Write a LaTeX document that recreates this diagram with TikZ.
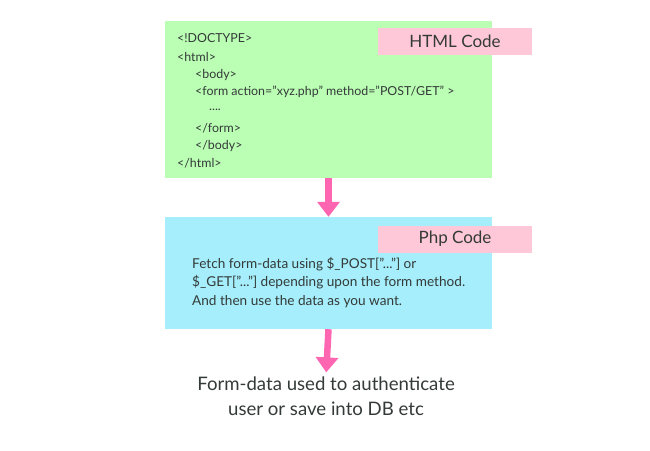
\documentclass[tikz,border=0pt]{standalone}
\usepackage{fontspec}
\setmainfont{Lato}
\usetikzlibrary{arrows.meta}

\definecolor{htmlgreen}{HTML}{BBFFB4}
\definecolor{phpblue}{HTML}{A6EEFB}
\definecolor{tagpink}{HTML}{FFC8D8}
\definecolor{flowpink}{HTML}{FF66B2}
\definecolor{inkgray}{HTML}{333A38}

\tikzset{
    codebox/.style={draw=none, minimum width=327pt, inner sep=0pt},
    tagbox/.style={fill=tagpink, minimum width=154pt, minimum height=27pt, inner sep=0pt, font=\fontsize{17}{20}\selectfont, text=inkgray},
    codeline/.style={anchor=west, inner sep=0pt, font=\fontsize{12.4}{14}\selectfont, text=inkgray},
    flow/.style={line width=6.5pt, flowpink, -{Triangle[length=15pt,width=22pt]}},
}

\begin{document}
\begin{tikzpicture}[x=1pt,y=-1pt,text centered]
    \useasboundingbox (0,0) rectangle (650,450);

    % html part
    \node [codebox, fill=htmlgreen, minimum height=157pt] (html) at (328.5,99.5) {};
    \node [tagbox] (htmltag) at (455,41.5) {HTML Code};

    \node [codeline] (l1) at (177,38) {<!DOCTYPE>};
    \node [codeline] (l2) at (177,57) {<html>};
    \node [codeline] (l3) at (195,75) {<body>};
    \node [codeline] (l4) at (195,92) {<form action="xyz.php" method="POST/GET" >};
    \node [codeline] (l5) at (209,110) {....};
    \node [codeline] (l6) at (195,128) {</form>};
    \node [codeline] (l7) at (195,146) {</body>};
    \node [codeline] (l8) at (177,163) {</html>};

    % php part
    \node [codebox, fill=phpblue, minimum height=112pt] (php) at (328.5,273) {};
    \node [tagbox] (phptag) at (455,239) {Php Code};

    \node [codeline, font=\fontsize{13.6}{18.5}\selectfont, align=left, anchor=north west] (phptext) at (192,257)
        {Fetch form-data using \$\_POST["..."] or\\
         \$\_GET["..."] depending upon the form method.\\
         And then use the data as you want.};

    % result
    \node [text=inkgray, font=\fontsize{18.6}{25}\selectfont, align=center, inner sep=0pt] (result) at (326,396)
        {Form-data used to authenticate\\user or save into DB etc};

    \draw [flow] (html.south) -- (php.north);
    \draw [flow, shorten >=4pt] (php.south) -- (result.north);
\end{tikzpicture}
\end{document}
